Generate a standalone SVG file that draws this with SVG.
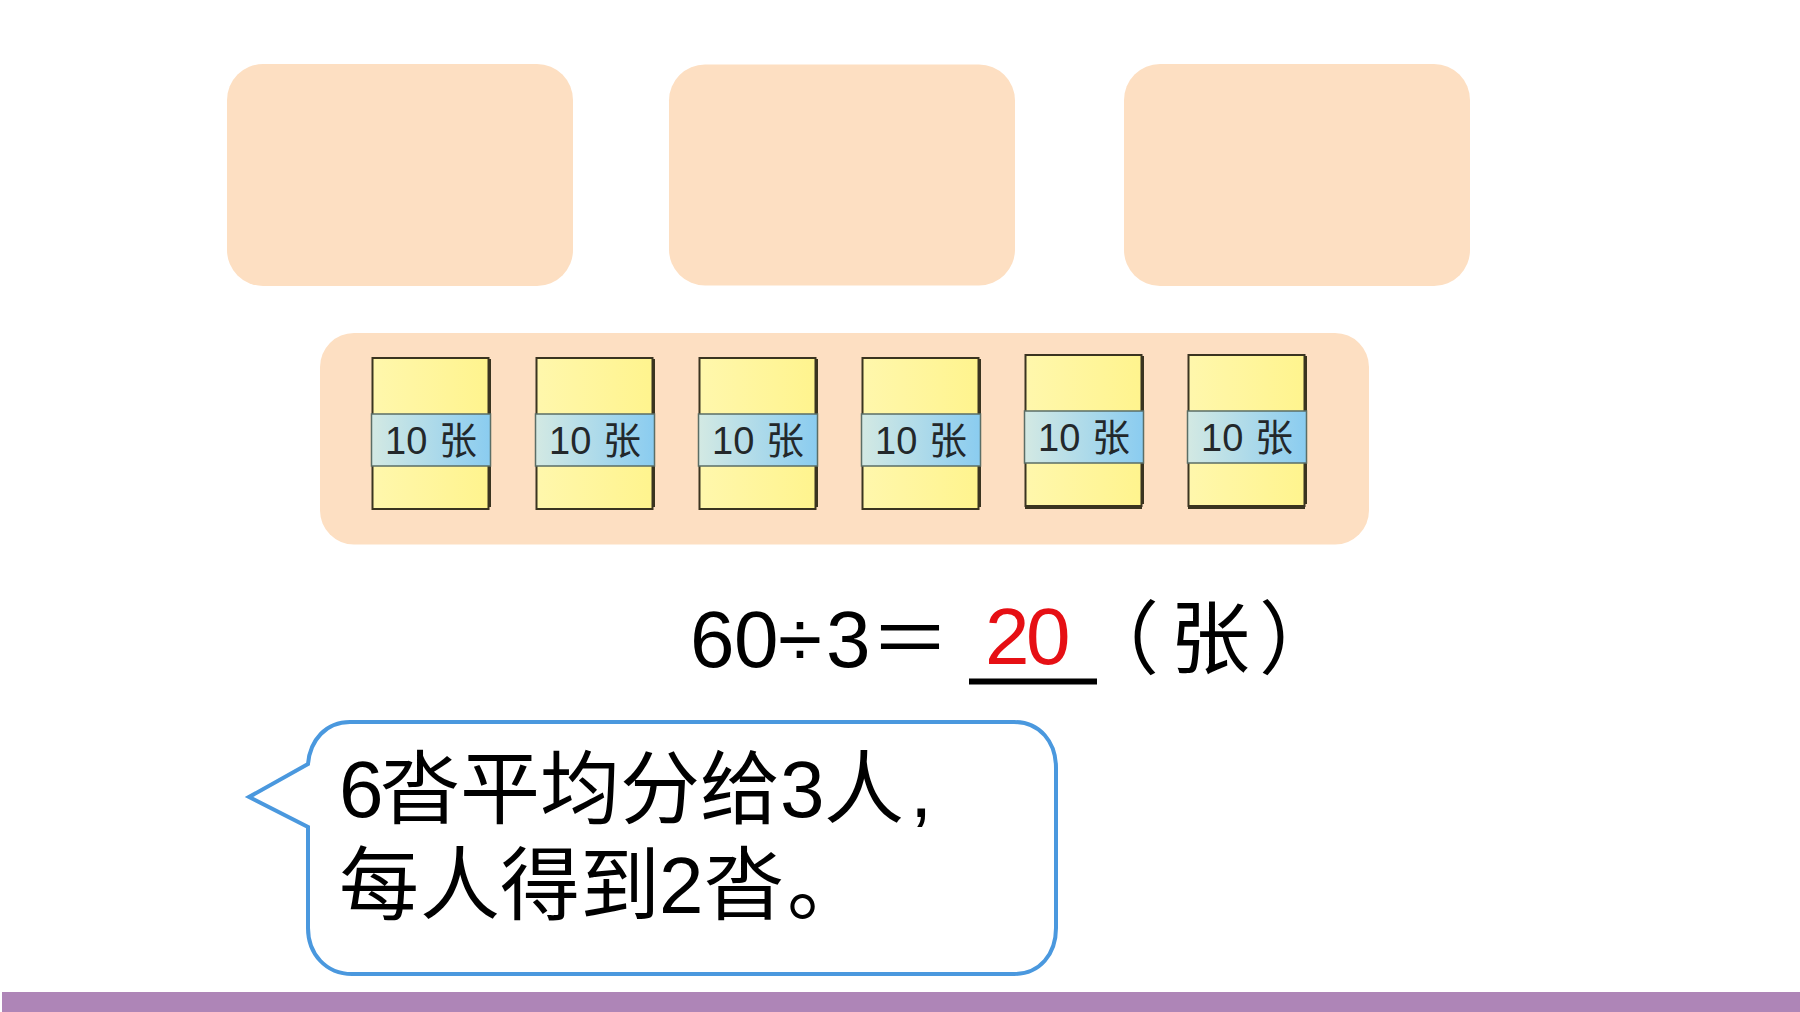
<svg xmlns="http://www.w3.org/2000/svg" width="1800" height="1012" viewBox="0 0 1800 1012">
<style>
.panel{fill:#FDDFC2}
.paper{fill:url(#yel);stroke:#3A3420;stroke-width:2}
.edge{fill:none;stroke:#3A3420;stroke-width:3}
.band{fill:url(#blu);stroke:#5B6E66;stroke-width:1.5}
.lab{font-family:"Liberation Sans","Noto Sans CJK SC",sans-serif;font-size:38px;fill:#23282B}
.big{font-family:"Liberation Sans","Noto Sans CJK SC",sans-serif;font-size:80px;fill:#000}
</style>
<defs>
<linearGradient id="yel" x1="0" x2="1" y1="0" y2="0"><stop offset="0" stop-color="#FFF7AC"/><stop offset="1" stop-color="#FFF48E"/></linearGradient>
<linearGradient id="blu" x1="0" x2="1" y1="0" y2="0"><stop offset="0" stop-color="#D3E9E3"/><stop offset="1" stop-color="#8ACCF0"/></linearGradient>
</defs>
<rect width="1800" height="1012" fill="#fff"/>
<g id="panel-1"><rect class="panel" x="227" y="64" width="346" height="222" rx="36"/></g>
<g id="panel-2"><rect class="panel" x="669" y="64.500" width="346" height="221" rx="36"/></g>
<g id="panel-3"><rect class="panel" x="1124" y="64" width="346" height="222" rx="36"/></g>
<g id="tray"><rect class="panel" x="320" y="333" width="1049" height="211.500" rx="34"/></g>
<g id="stack-1" transform="translate(372,358)">
<rect class="paper" x="0.5" y="0" width="116" height="151"/><path class="edge" d="M117.500 1V149"/>
<rect class="band" x="-0.500" y="56" width="119" height="52"/>
<text class="lab" x="13" y="96">10</text><text class="lab" x="67" y="96">张</text></g>
<g id="stack-2" transform="translate(536,358)">
<rect class="paper" x="0.5" y="0" width="116" height="151"/><path class="edge" d="M117.500 1V149"/>
<rect class="band" x="-0.500" y="56" width="119" height="52"/>
<text class="lab" x="13" y="96">10</text><text class="lab" x="67" y="96">张</text></g>
<g id="stack-3" transform="translate(699,358)">
<rect class="paper" x="0.5" y="0" width="116" height="151"/><path class="edge" d="M117.500 1V149"/>
<rect class="band" x="-0.500" y="56" width="119" height="52"/>
<text class="lab" x="13" y="96">10</text><text class="lab" x="67" y="96">张</text></g>
<g id="stack-4" transform="translate(862,358)">
<rect class="paper" x="0.5" y="0" width="116" height="151"/><path class="edge" d="M117.500 1V149"/>
<rect class="band" x="-0.500" y="56" width="119" height="52"/>
<text class="lab" x="13" y="96">10</text><text class="lab" x="67" y="96">张</text></g>
<g id="stack-5" transform="translate(1025,355)">
<rect class="paper" x="0.5" y="0" width="116" height="151"/><path class="edge" d="M117.500 1V149"/><path class="edge" d="M0 153H117" style="stroke-width:2"/>
<rect class="band" x="-0.500" y="56" width="119" height="52"/>
<text class="lab" x="13" y="96">10</text><text class="lab" x="67" y="96">张</text></g>
<g id="stack-6" transform="translate(1188,355)">
<rect class="paper" x="0.5" y="0" width="116" height="151"/><path class="edge" d="M117.500 1V149"/><path class="edge" d="M0 153H117" style="stroke-width:2"/>
<rect class="band" x="-0.500" y="56" width="119" height="52"/>
<text class="lab" x="13" y="96">10</text><text class="lab" x="67" y="96">张</text></g>
<g id="equation">
<text class="big" x="690 734 778 826 870" y="667">60÷3＝</text>
<text class="big" x="985 1026" y="664" style="fill:#E60F14">20</text>
<rect x="969" y="678.500" width="128" height="6" fill="#000"/>
<text class="big" x="1079 1170 1259" y="667">（张）</text>
</g>
<g id="bubble">
<path d="M350 722H1014C1040 722 1056 742 1056 768V928C1056 954 1040 974 1014 974H352C326 974 308 954 308 928V827L249 797L308 764C310 740 326 722 350 722Z" fill="#fff" stroke="#4A98DE" stroke-width="4"/>
<text class="big" x="339 380 460 540 620 700 780 824 910" y="817">6沓平均分给3人,</text>
<text class="big" x="339 420 500 580 659 704 787" y="913">每人得到2沓。</text>
</g>
<g id="footer"><rect x="2" y="992" width="1798" height="20" fill="#AE85B7"/></g>
</svg>
